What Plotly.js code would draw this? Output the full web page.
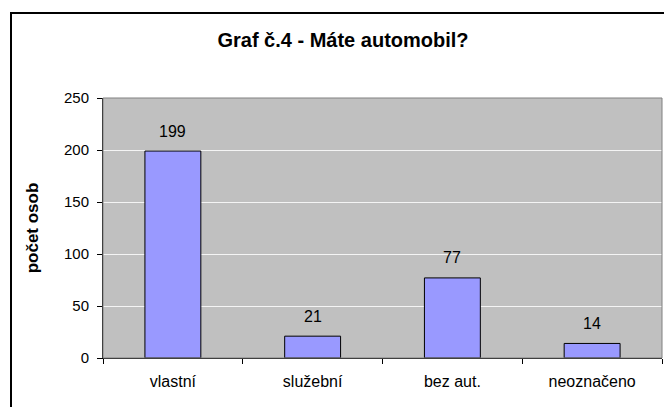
<!DOCTYPE html>
<html>
<head>
<meta charset="utf-8">
<script src="https://cdn.plot.ly/plotly-3.0.1.min.js"></script>
<style>
  body { margin: 0; background: #fff; overflow: hidden; }
  #frame { position: absolute; left: 10px; top: 12px; width: 700px; height: 450px; border: 2px solid #000; }
  #chart { position: absolute; left: 0; top: 0; width: 664px; height: 407px; }
</style>
</head>
<body>
<div id="frame"></div>
<div id="chart"></div>
<script>
var categories = ['vlastní', 'služební', 'bez aut.', 'neoznačeno'];
var counts = [199, 21, 77, 14];
var yTicks = [0, 50, 100, 150, 200, 250];

var font = 'Arial, "Liberation Sans", sans-serif';

var data = [{
    type: 'bar',
    x: categories,
    y: counts,
    marker: {
        color: '#9999FF',
        line: { color: '#000000', width: 1 }
    },
    hoverinfo: 'none'
}];

// popisky nad sloupci
var labels = categories.map(function (c, i) {
    return {
        x: c, y: counts[i], text: String(counts[i]),
        showarrow: false, yanchor: 'middle', yshift: 20,
        font: { family: font, size: 16, color: '#000' }
    };
});

var layout = {
    width: 664,
    height: 407,
    margin: { l: 103, r: 2, t: 98, b: 49 },
    paper_bgcolor: 'rgba(0,0,0,0)',
    plot_bgcolor: '#C0C0C0',
    bargap: 0.6,
    showlegend: false,
    font: { family: font, size: 15, color: '#000' },
    title: {
        text: '<b>Graf č.4 - Máte automobil?</b>',
        font: { family: font, size: 20, color: '#000' },
        x: 343 / 664, xref: 'container', xanchor: 'center',
        y: 1 - 40 / 407, yref: 'container', yanchor: 'middle'
    },
    xaxis: {
        type: 'category',
        showline: true, linecolor: '#000', linewidth: 1,
        ticks: 'outside', tickson: 'boundaries', ticklen: 5, tickcolor: '#000',
        ticklabelstandoff: 9,
        showgrid: false,
        tickfont: { family: font, size: 16 }
    },
    yaxis: {
        range: [0, 250],
        tickvals: yTicks,
        showline: true, linecolor: '#000', linewidth: 1,
        ticks: 'outside', ticklen: 5, tickcolor: '#000',
        ticklabelstandoff: 5,
        showgrid: true, gridcolor: '#F4F4F4', gridwidth: 1,
        zeroline: false,
        tickfont: { family: font, size: 15 },
        title: {
            text: '<b>počet osob</b>',
            font: { family: font, size: 17 },
            standoff: 21
        }
    },
    shapes: [{
        type: 'rect', xref: 'paper', yref: 'paper',
        x0: 0, x1: 1, y0: 0, y1: 1,
        line: { color: '#808080', width: 1 }
    }],
    annotations: labels
};

Plotly.newPlot('chart', data, layout, { staticPlot: true });
</script>
</body>
</html>
